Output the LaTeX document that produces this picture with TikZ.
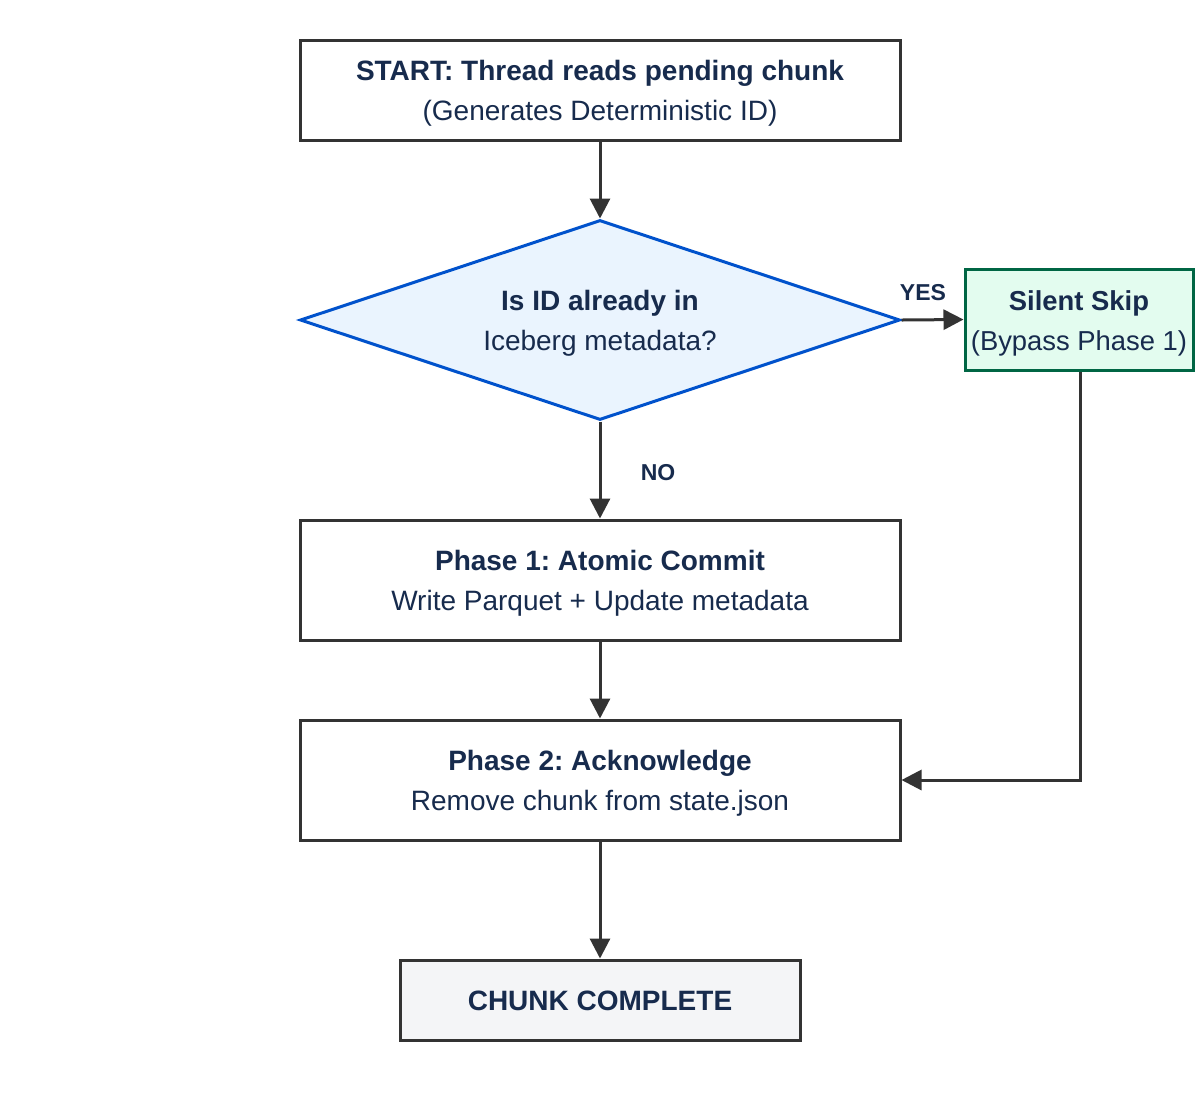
\documentclass[tikz,border=0pt]{standalone}
\usepackage{fontspec}
\setmainfont{Liberation Sans}
\usetikzlibrary{arrows.meta,shapes.geometric}
\definecolor{txt}{HTML}{172B4D}
\definecolor{edge}{HTML}{333333}
\definecolor{dblue}{HTML}{0052CC}
\definecolor{dfill}{HTML}{EAF4FE}
\definecolor{gborder}{HTML}{006644}
\definecolor{gfill}{HTML}{E3FCEF}
\definecolor{cfill}{HTML}{F4F5F7}
\tikzset{
  box/.style={draw=edge, line width=1.5pt, fill=white, inner sep=0pt},
  tx/.style={text=txt, align=center, inner sep=0pt, font=\frenchspacing\fontsize{14}{20}\selectfont},
  conn/.style={draw=edge, line width=1.5pt, -{Triangle[length=10pt,width=10pt]}},
  lbl/.style={text=txt, font=\fontsize{11.5}{14}\selectfont\bfseries},
}
\begin{document}
\begin{tikzpicture}[x=0.5pt,y=-0.5pt]
\useasboundingbox[fill=white] (0,0) rectangle (1200,1100);
% shapes
\node[box, minimum width=300pt, minimum height=50pt] (start) at (600,90) {};
\node[draw=dblue, line width=1.5pt, fill=dfill, diamond, aspect=3, minimum width=300pt, minimum height=100pt, inner sep=0pt] (dec) at (600,320) {};
\node[box, draw=gborder, fill=gfill, minimum width=114pt, minimum height=50.5pt] (skip) at (1079,319.5) {};
\node[box, minimum width=300pt, minimum height=60pt] (p1) at (600,580) {};
\node[box, minimum width=300pt, minimum height=60pt] (p2) at (600,780) {};
\node[box, fill=cfill, minimum width=200pt, minimum height=40pt] (done) at (600,1000) {};
% texts
\node[tx] (startT) at ([yshift=-1.5pt]start.center)
  {\textbf{START: Thread reads pending chunk}\\(Generates Deterministic ID)};
\node[tx] (decT) at ([yshift=-1.5pt]dec.center)
  {\textbf{Is ID already in}\\Iceberg metadata?};
\node[tx, font=\frenchspacing\fontsize{13.7}{20}\selectfont] (skipT) at ([yshift=-1.75pt]skip.center)
  {\textbf{Silent Skip}\\(Bypass Phase 1)};
\node[tx] (p1T) at ([yshift=-1.5pt]p1.center)
  {\textbf{Phase 1: Atomic Commit}\\Write Parquet + Update metadata};
\node[tx] (p2T) at ([yshift=-1.5pt]p2.center)
  {\textbf{Phase 2: Acknowledge}\\Remove chunk from state.json};
\node[tx, font=\fontsize{14}{20}\selectfont\bfseries] (doneT) at ([yshift=-0.5pt]done.center)
  {CHUNK COMPLETE};
% connectors
\draw[conn] (start.south) -- (dec.north);
\draw[conn] (dec.east) -- (skip.west);
\draw[conn] (dec.south) -- (p1.north);
\draw[conn] (p1.south) -- (p2.north);
\draw[conn] (p2.south) -- (done.north);
\draw[conn] (skip.south -| 1080,0) |- (p2.east);
% labels
\node[lbl] (yes) at (923,292.5) {YES};
\node[lbl] (no) at (658,472.5) {NO};
\end{tikzpicture}
\end{document}
